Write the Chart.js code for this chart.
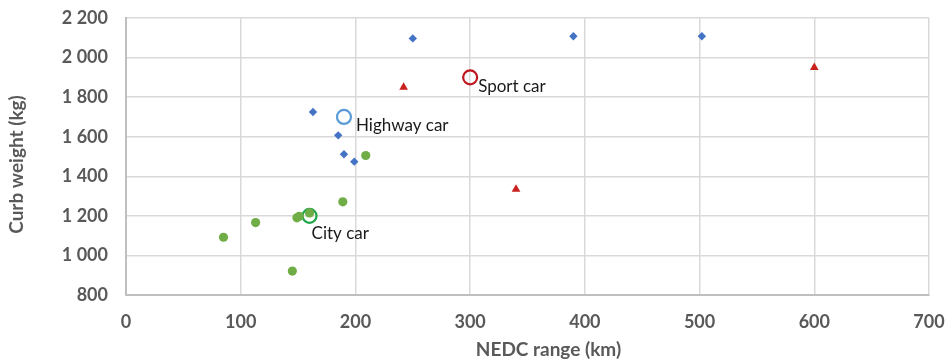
<!DOCTYPE html>
<html>
<head>
<meta charset="utf-8">
<script src="https://cdn.jsdelivr.net/npm/chart.js@4.4.1/dist/chart.umd.min.js"></script>
<style>
  html, body { margin: 0; padding: 0; background: #ffffff; }
  #wrap { width: 951px; height: 362px; }
</style>
</head>
<body>
<div id="wrap"><canvas id="c" width="951" height="362"></canvas></div>
<script>
// Vehicle data: NEDC range (km) vs curb weight (kg)
const highwayRange  = [163, 250, 390, 502, 185, 190, 199];
const highwayWeight = [1725, 2097, 2108, 2108, 1607, 1511, 1474];

const sportRange  = [242, 340, 600];
const sportWeight = [1850, 1335, 1950];

const cityRange  = [85, 113, 149, 151, 160, 189, 145, 209];
const cityWeight = [1092, 1166, 1190, 1198, 1215, 1271, 921, 1505];

// Reference archetypes (open circles with a name label)
const archetypeNames  = ['City car', 'Highway car', 'Sport car'];
const archetypeRange  = [160, 190, 300];
const archetypeWeight = [1200, 1700, 1900];

const xTicks = [0, 100, 200, 300, 400, 500, 600, 700];
const yTicks = [800, 1000, 1200, 1400, 1600, 1800, 2000, 2200];

const xTitle = 'NEDC range (km)';
const yTitle = 'Curb weight (kg)';

const toPoints = (xs, ys) => xs.map((x, i) => ({ x: x, y: ys[i] }));

const fmt = v => String(v).replace(/\B(?=(\d{3})+(?!\d))/g, ' ');

const tickFont = { family: 'Lato', size: 18, weight: 'bold' };

// Draws the archetype names next to their rings
const archetypeLabels = {
  id: 'archetypeLabels',
  afterDatasetsDraw(chart) {
    const ctx = chart.ctx;
    const xs = chart.scales.x, ys = chart.scales.y;
    const placement = { 'City car': [2, 18], 'Highway car': [12, 9], 'Sport car': [8, 9] };
    ctx.save();
    ctx.font = '17px Lato';
    ctx.fillStyle = '#1a1a1a';
    ctx.textAlign = 'left';
    ctx.textBaseline = 'middle';
    archetypeNames.forEach((name, i) => {
      const px = xs.getPixelForValue(archetypeRange[i]);
      const py = ys.getPixelForValue(archetypeWeight[i]);
      const off = placement[name];
      ctx.fillText(name, px + off[0], py + off[1]);
    });
    ctx.restore();
  }
};

// Axis titles, set slightly off the plot centre the way the office chart lays them out
const axisTitles = {
  id: 'axisTitles',
  afterDraw(chart) {
    const ctx = chart.ctx;
    const area = chart.chartArea;
    ctx.save();
    ctx.font = 'bold 19px Lato';
    ctx.fillStyle = '#595959';
    ctx.textAlign = 'center';
    ctx.textBaseline = 'middle';
    ctx.fillText(xTitle, (area.left + area.right) / 2 + 21, chart.height - 12);
    ctx.translate(17, (area.top + area.bottom) / 2 + 8);
    ctx.rotate(-Math.PI / 2);
    ctx.fillText(yTitle, 0, 0);
    ctx.restore();
  }
};

new Chart(document.getElementById('c'), {
  type: 'scatter',
  data: {
    datasets: [
      {
        label: 'Highway',
        data: toPoints(highwayRange, highwayWeight),
        pointStyle: 'rectRot',
        radius: 4.2,
        backgroundColor: '#4472c4',
        borderColor: '#4472c4',
        borderWidth: 0
      },
      {
        label: 'Sport',
        data: toPoints(sportRange, sportWeight),
        pointStyle: 'triangle',
        radius: 5,
        backgroundColor: '#c9211e',
        borderColor: '#c9211e',
        borderWidth: 0
      },
      {
        label: 'City',
        data: toPoints(cityRange, cityWeight),
        pointStyle: 'circle',
        radius: 4.6,
        backgroundColor: '#70ad47',
        borderColor: '#70ad47',
        borderWidth: 0
      },
      {
        label: 'Archetypes',
        data: toPoints(archetypeRange, archetypeWeight),
        pointStyle: 'circle',
        radius: 7,
        backgroundColor: 'rgba(0,0,0,0)',
        borderColor: ['#1fa54a', '#5b9bd5', '#c0161f'],
        borderWidth: 2.2
      }
    ]
  },
  options: {
    responsive: false,
    animation: false,
    events: [],
    layout: { padding: { left: 4, right: 0, top: 0, bottom: 2 } },
    plugins: {
      legend: { display: false },
      tooltip: { enabled: false }
    },
    scales: {
      x: {
        type: 'linear',
        min: xTicks[0],
        max: xTicks[xTicks.length - 1],
        afterBuildTicks: s => { s.ticks = xTicks.map(v => ({ value: v })); },
        ticks: { color: '#595959', font: tickFont, padding: 16, maxRotation: 0, callback: v => fmt(v) },
        grid: { color: '#d9d9d9', lineWidth: 1.5, drawTicks: false },
        border: { color: '#bfbfbf', width: 2 },
        title: { display: false },
        afterFit: s => { s.height = 65; s.paddingLeft = 0; s.paddingRight = 22; }
      },
      y: {
        type: 'linear',
        min: yTicks[0],
        max: yTicks[yTicks.length - 1],
        afterBuildTicks: s => { s.ticks = yTicks.map(v => ({ value: v })); },
        ticks: { color: '#595959', font: tickFont, padding: 18, callback: v => fmt(v) },
        grid: { color: '#d9d9d9', lineWidth: 1.5, drawTicks: false },
        border: { color: '#bfbfbf', width: 2 },
        title: { display: false },
        afterFit: s => { s.width = 122; s.paddingTop = 18; s.paddingBottom = 0; }
      }
    }
  },
  plugins: [archetypeLabels, axisTitles]
});
</script>
</body>
</html>
